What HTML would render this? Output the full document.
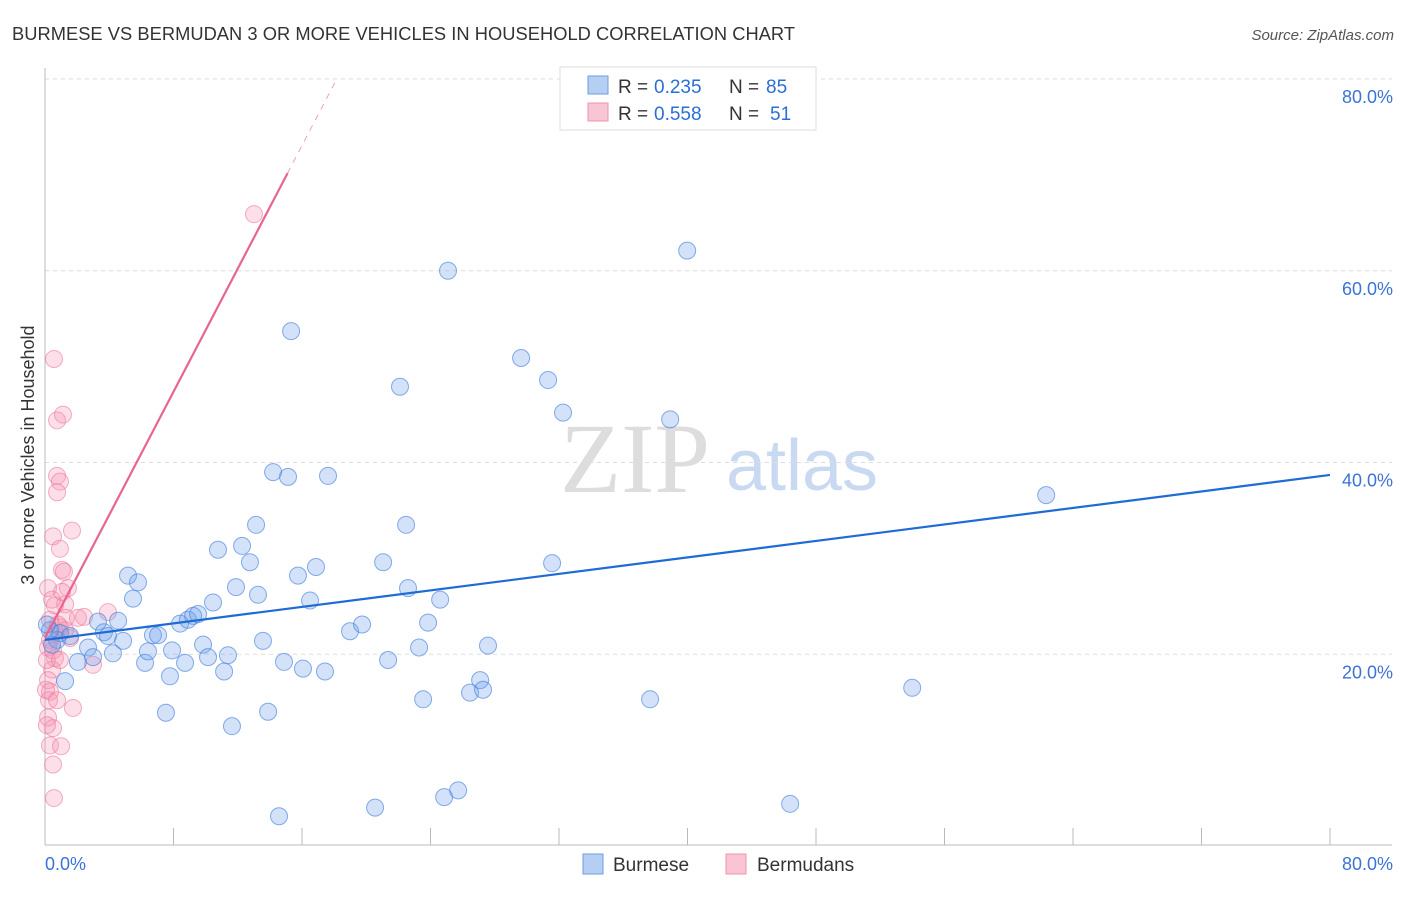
<!DOCTYPE html>
<html><head><meta charset="utf-8"><style>
body{margin:0;background:#fff;font-family:"Liberation Sans",sans-serif;}
svg text{font-family:"Liberation Sans",sans-serif;}
</style></head><body>
<svg id="chart" width="1406" height="892">
<text x="12" y="40" font-size="18.3" fill="#333" textLength="783">BURMESE VS BERMUDAN 3 OR MORE VEHICLES IN HOUSEHOLD CORRELATION CHART</text>
<text x="1394" y="40" font-size="15" fill="#555" font-style="italic" text-anchor="end">Source: ZipAtlas.com</text>
<text x="635" y="492" font-size="100" fill="#ddd" text-anchor="middle" style="font-family:'Liberation Serif',serif">ZIP</text>
<text x="802" y="490" font-size="72" fill="#c9d9f2" text-anchor="middle">atlas</text>
<g id="grid"></g><g id="axes"></g><g id="marks"></g>
<text transform="translate(34,455) rotate(-90)" font-size="18" fill="#333" text-anchor="middle">3 or more Vehicles in Household</text>
<g>
<rect x="560" y="67" width="256" height="63" fill="#fff" stroke="#ddd"/>
<rect x="588" y="76" width="20" height="18" fill="#b5cff3" stroke="#6f9be0"/>
<text x="618" y="93" font-size="19" fill="#333">R =</text><text x="654" y="93" font-size="19" fill="#2a6fd6">0.235</text>
<text x="729" y="93" font-size="19" fill="#333">N =</text><text x="766" y="93" font-size="19" fill="#2a6fd6">85</text>
<rect x="588" y="103" width="20" height="18" fill="#f8c5d4" stroke="#ee93ae"/>
<text x="618" y="120" font-size="19" fill="#333">R =</text><text x="654" y="120" font-size="19" fill="#2a6fd6">0.558</text>
<text x="729" y="120" font-size="19" fill="#333">N =</text><text x="770" y="120" font-size="19" fill="#2a6fd6">51</text>
</g>
<g>
<rect x="583" y="854" width="20" height="20" fill="#b5cff3" stroke="#6f9be0"/>
<text x="613" y="871" font-size="19" fill="#333">Burmese</text>
<rect x="726" y="854" width="20" height="20" fill="#f8c5d4" stroke="#ee93ae"/>
<text x="757" y="871" font-size="19" fill="#333">Bermudans</text>
</g>
</svg>
<script>
const yTicks=[20,40,60,80];
const yTickLabels=["20.0%","40.0%","60.0%","80.0%"];
const xTicks=[0,8,16,24,32,40,48,56,64,72,80];
const burmeseX=[1.25,0.75,0.44,0.93,1.56,2.05,2.68,2.99,3.3,3.67,3.92,4.23,4.55,4.86,5.17,5.79,5.48,6.23,6.41,6.72,7.04,7.53,7.78,7.91,8.41,8.72,8.9,9.22,9.53,9.84,10.15,10.46,10.77,11.15,11.39,11.64,11.89,12.27,12.76,13.14,13.26,13.57,13.89,14.2,14.57,14.88,15.13,15.32,15.75,16.06,16.5,16.87,17.43,17.62,18.99,19.74,20.55,21.05,21.36,22.1,22.48,22.6,23.29,23.54,23.85,24.6,24.85,25.09,25.72,26.46,27.09,27.27,27.58,29.64,31.32,31.57,32.25,37.67,38.92,39.98,46.39,53.99,62.33,0.31,0.12];
const burmeseY=[17.2,21.5,21.0,22.2,21.9,19.2,20.7,19.7,23.4,22.3,21.9,20.1,23.5,21.4,28.2,27.5,25.8,19.1,20.3,22.0,22.0,13.9,17.7,20.4,23.2,19.1,23.6,24.0,24.2,21.0,19.7,25.4,30.9,18.2,19.9,12.5,27.0,31.3,29.6,33.5,26.2,21.4,14.0,39.0,3.1,19.2,38.5,53.7,28.2,18.5,25.6,29.1,18.2,38.6,22.4,23.1,4.0,29.6,19.4,47.9,33.5,26.9,20.7,15.3,23.3,25.7,5.1,60.0,5.8,16.0,17.3,16.3,20.9,50.9,48.6,29.5,45.2,15.3,44.5,62.1,4.4,16.5,36.6,22.5,23.1];
const bermudaX=[0.56,0.75,1.12,0.75,0.93,0.75,0.5,1.68,0.93,0.19,1.06,1.18,1.25,0.93,0.62,0.31,0.19,0.62,0.44,0.19,0.31,0.19,0.5,0.12,0.31,1.0,0.5,0.56,1.74,2.99,3.92,2.43,0.31,0.81,1.25,0.12,0.25,0.06,0.5,1.31,1.56,0.93,0.44,1.43,0.62,1.06,2.05,13.01,0.75];
const bermudaY=[50.8,44.4,45.0,38.6,38.0,36.9,32.3,32.9,31.0,26.9,28.8,28.6,25.2,22.8,22.3,21.5,20.7,19.6,18.4,17.3,16.1,13.4,12.3,12.6,10.5,10.4,8.5,5.0,14.4,18.9,24.4,23.9,23.6,23.1,22.5,19.4,15.2,16.3,20.4,23.8,21.7,19.4,25.7,26.9,25.1,26.5,23.8,65.9,15.2];
const burmeseTrend=[21.5,38.7];
const bermudaTrend=[21.7,3.21];
const NS="http://www.w3.org/2000/svg";
const X0=45,X1=1330,Y0=846,YT=79;
const sx=v=>X0+v/80*(X1-X0);
const sy=v=>Y0-v/80*(Y0-YT);
function mk(tag,attrs,parent){const e=document.createElementNS(NS,tag);for(const k in attrs)e.setAttribute(k,attrs[k]);document.getElementById(parent).appendChild(e);return e;}
yTicks.forEach((t,i)=>{
 const g=mk('line',{x1:X0,x2:1392,y1:sy(t),y2:sy(t),stroke:'#ddd','stroke-dasharray':'4,4'},'grid');
 
 
 const l=mk('text',{x:1393,y:sy(t)+24,'font-size':18,fill:'#3b73d6','text-anchor':'end'},'axes');
 l.textContent=yTickLabels[i];
 
 
});
let a=mk('line',{x1:X0,x2:X0,y1:68,y2:845,stroke:'#bbb'},'axes');


a=mk('line',{x1:X0,x2:1392,y1:845,y2:845,stroke:'#bbb'},'axes');


xTicks.forEach(t=>{const e=mk('line',{x1:sx(t),x2:sx(t),y1:828,y2:845,stroke:'#bbb'},'axes');
 
 });
let xl=mk('text',{x:45,y:870,'font-size':18,fill:'#3b73d6'},'axes');xl.textContent='0.0%';


xl=mk('text',{x:1393,y:870,'font-size':18,fill:'#3b73d6','text-anchor':'end'},'axes');xl.textContent='80.0%';


bermudaX.forEach((x,i)=>{const c=mk('circle',{cx:sx(x),cy:sy(bermudaY[i]),r:8.5,fill:'rgba(244,150,180,0.3)',stroke:'rgba(236,120,155,0.6)'},'marks');
 
 });
burmeseX.forEach((x,i)=>{const c=mk('circle',{cx:sx(x),cy:sy(burmeseY[i]),r:8.5,fill:'rgba(110,160,235,0.3)',stroke:'rgba(70,130,220,0.65)'},'marks');
 
 });
let t=mk('line',{x1:sx(0),y1:sy(burmeseTrend[0]),x2:sx(80),y2:sy(burmeseTrend[1]),stroke:'#1f6bd6','stroke-width':2.2},'marks');


const xe=15.1,xd=(80-bermudaTrend[0])/bermudaTrend[1];
t=mk('line',{x1:sx(0),y1:sy(bermudaTrend[0]),x2:sx(xe),y2:sy(bermudaTrend[0]+bermudaTrend[1]*xe),stroke:'#e8658f','stroke-width':2.2},'marks');


t=mk('line',{x1:sx(xe),y1:sy(bermudaTrend[0]+bermudaTrend[1]*xe),x2:sx(xd),y2:sy(80),stroke:'#f0a0b8','stroke-width':1,'stroke-dasharray':'6,6'},'marks');


</script>
</body></html>
